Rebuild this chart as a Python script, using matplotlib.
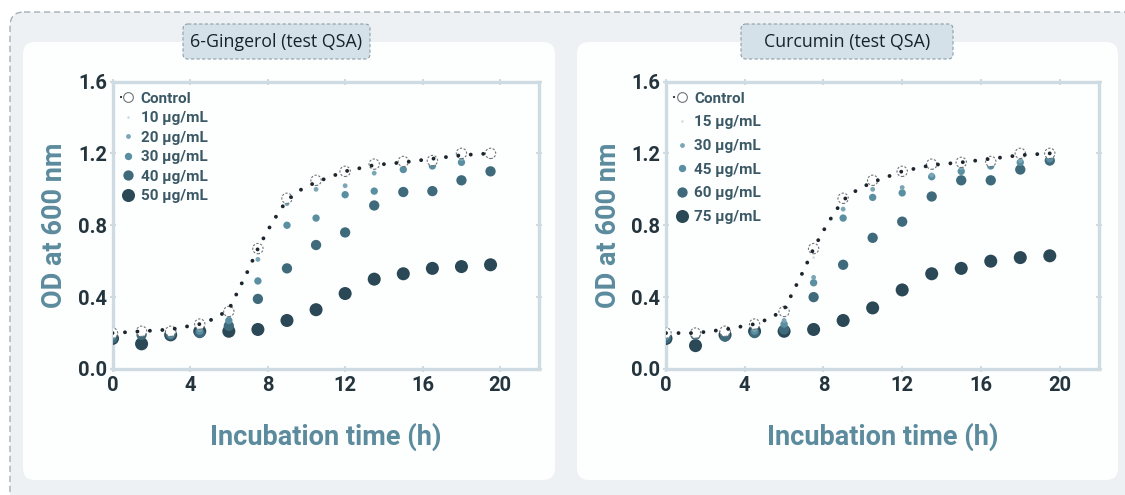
import matplotlib
matplotlib.use("Agg")
import matplotlib.pyplot as plt
from matplotlib.patches import FancyBboxPatch
from matplotlib.lines import Line2D

plt.rcParams['font.family'] = ['Roboto', 'DejaVu Sans']

# ---------------- data ----------------
time_h = [0, 1.5, 3, 4.5, 6, 7.5, 9, 10.5, 12, 13.5, 15, 16.5, 18, 19.5]

ging_labels = ["Control", "10 μg/mL", "20 μg/mL", "30 μg/mL", "40 μg/mL", "50 μg/mL"]
ging_control = [0.20, 0.21, 0.21, 0.25, 0.32, 0.67, 0.95, 1.05, 1.10, 1.14, 1.155, 1.16, 1.20, 1.20]
ging_10 = [0.20, 0.20, 0.21, 0.24, 0.31, 0.65, 0.94, 1.04, 1.09, 1.13, 1.15, 1.16, 1.19, 1.20]
ging_20 = [0.19, 0.20, 0.20, 0.22, 0.30, 0.61, 0.92, 1.00, 1.02, 1.09, 1.14, 1.15, 1.17, 1.19]
ging_30 = [0.18, 0.20, 0.19, 0.21, 0.27, 0.49, 0.80, 0.84, 0.97, 0.99, 1.11, 1.13, 1.15, 1.19]
ging_40 = [0.17, 0.19, 0.19, 0.20, 0.24, 0.39, 0.56, 0.69, 0.76, 0.91, 0.985, 0.99, 1.05, 1.10]
ging_50 = [0.17, 0.14, 0.19, 0.21, 0.21, 0.22, 0.27, 0.33, 0.42, 0.50, 0.53, 0.56, 0.57, 0.58]

curc_labels = ["Control", "15 μg/mL", "30 μg/mL", "45 μg/mL", "60 μg/mL", "75 μg/mL"]
curc_control = [0.20, 0.20, 0.21, 0.25, 0.32, 0.67, 0.95, 1.05, 1.10, 1.14, 1.15, 1.155, 1.20, 1.20]
curc_15 = [0.20, 0.20, 0.21, 0.24, 0.30, 0.62, 0.93, 1.03, 1.08, 1.12, 1.14, 1.15, 1.18, 1.19]
curc_30 = [0.19, 0.20, 0.20, 0.22, 0.27, 0.51, 0.89, 1.00, 1.01, 1.08, 1.12, 1.14, 1.16, 1.18]
curc_45 = [0.18, 0.20, 0.20, 0.21, 0.25, 0.48, 0.84, 0.955, 0.98, 1.07, 1.10, 1.13, 1.15, 1.17]
curc_60 = [0.17, 0.19, 0.18, 0.20, 0.22, 0.40, 0.58, 0.73, 0.82, 0.96, 1.05, 1.05, 1.11, 1.16]
curc_75 = [0.17, 0.13, 0.19, 0.21, 0.21, 0.22, 0.27, 0.34, 0.44, 0.53, 0.56, 0.60, 0.62, 0.63]

# fitted growth curve (dotted)
fit_t = [0, 1.5, 3, 4.5, 5.25, 6, 6.5, 7, 7.5, 8, 8.5, 9, 9.75, 10.5, 11.5, 12, 13.5, 15, 16.5, 18, 19.5]
ging_fit = [0.20, 0.21, 0.22, 0.25, 0.28, 0.33, 0.44, 0.55, 0.67, 0.77, 0.86, 0.94, 1.00, 1.04, 1.08, 1.10, 1.135, 1.15, 1.17, 1.19, 1.20]
curc_fit = [0.20, 0.20, 0.22, 0.25, 0.28, 0.33, 0.44, 0.55, 0.67, 0.77, 0.86, 0.94, 1.00, 1.04, 1.08, 1.10, 1.135, 1.15, 1.17, 1.19, 1.20]

x_ticks = [0, 4, 8, 12, 16, 20]
y_ticks = [0.0, 0.4, 0.8, 1.2, 1.6]

titles = ["6-Gingerol (test QSA)", "Curcumin (test QSA)"]

# ---------------- style ----------------
W, H = 1125, 495
dose_colors = ["#c9d7de", "#7ba6b6", "#5a8fa2", "#3f6a7b", "#2a4855"]
dose_sizes = [3, 12, 28, 55, 88]
spine_c = "#cfdbe2"
tick_c = "#24343d"
label_c = "#5b8b9d"

fig = plt.figure(figsize=(W / 100, H / 100), dpi=100)
fig.patch.set_facecolor("white")

bg = fig.add_axes([0, 0, 1, 1], zorder=0)
bg.set_xlim(0, W)
bg.set_ylim(H, 0)
bg.axis("off")

bg.add_patch(FancyBboxPatch((10, 12), 1140, 500, boxstyle="round,pad=0,rounding_size=14",
                            fc="#edf1f4", ec="#9aa8b0", lw=0.9, ls=(0, (5, 3))))
panels = [(23, 42, 532, 438), (577, 42, 541, 438)]
for (x, y, w, h) in panels:
    bg.add_patch(FancyBboxPatch((x, y), w, h, boxstyle="round,pad=0,rounding_size=12",
                                fc="#fdfefe", ec="none"))
tboxes = [(183, 24, 187, 35), (741, 24, 212, 35)]
for (x, y, w, h), t in zip(tboxes, titles):
    bg.add_patch(FancyBboxPatch((x, y), w, h, boxstyle="round,pad=0,rounding_size=5",
                                fc="#d5e1e8", ec="#8d9ea8", lw=0.8, ls=(0, (3, 2))))
    bg.text(x + w / 2, y + h / 2 + 0.5, t, ha="center", va="center", fontsize=12.8,
            color="#18222a", family=["Open Sans", "DejaVu Sans"])

ax_rects = [
    [112.5 / W, 1 - 369 / H, (539 - 112.5) / W, (369 - 81.5) / H],
    [666 / W, 1 - 369 / H, (1099 - 666) / W, (369 - 81.5) / H],
]
panel_data = [
    (ging_labels, ging_control, [ging_10, ging_20, ging_30, ging_40, ging_50], ging_fit, 0.36),
    (curc_labels, curc_control, [curc_15, curc_30, curc_45, curc_60, curc_75], curc_fit, 0.63),
]

for rect, (labels, ctrl, doses, fit, lspace) in zip(ax_rects, panel_data):
    ax = fig.add_axes(rect, zorder=2)
    ax.set_facecolor("none")
    # doses: darkest first so lighter sit on top
    for series, c, s in reversed(list(zip(doses, dose_colors, dose_sizes))):
        ax.scatter(time_h, series, s=s, color=c, edgecolors="none", zorder=3)
    ax.scatter(time_h, ctrl, s=55, facecolors="white", edgecolors="#6d7478",
               linewidths=0.8, linestyles=(0, (2, 1.5)), zorder=4)
    ax.plot(fit_t, fit, color="#1c262c", lw=2.8, ls=(0, (0.01, 3.2)),
            dash_capstyle="round", zorder=5)

    ax.set_xlim(0, 22)
    ax.set_ylim(0, 1.6)
    ax.set_xticks(x_ticks)
    ax.set_yticks(y_ticks)
    ax.set_xticklabels([str(v) for v in x_ticks])
    ax.set_yticklabels([f"{v:.1f}" for v in y_ticks])
    for sp in ax.spines.values():
        sp.set_color(spine_c)
        sp.set_linewidth(2.4)
    ax.tick_params(direction="inout", length=4, width=1.5, color=spine_c,
                   top=True, right=True, labelsize=14.5, labelcolor=tick_c)
    ax.tick_params(axis="x", pad=3)
    ax.tick_params(axis="y", pad=2)
    for lab in ax.get_xticklabels() + ax.get_yticklabels():
        lab.set_fontweight("bold")

    ax.set_xlabel("Incubation time (h)", fontsize=19.5, fontweight="bold", color=label_c, labelpad=20)
    ax.set_ylabel("OD at 600 nm", fontsize=19.5, fontweight="bold", color=label_c, labelpad=7)

    handles = [Line2D([0], [0], color="#1c262c", lw=1.6, ls=(0, (0.01, 2.5)),
                      dash_capstyle="round", marker="o", markersize=7,
                      mfc="white", mec="#6d7478", mew=0.8)]
    for c, s in zip(dose_colors, dose_sizes):
        handles.append(Line2D([0], [0], ls="none", marker="o", markersize=s ** 0.5,
                              mfc=c, mec="none"))
    leg = ax.legend(handles, labels, loc="upper left", bbox_to_anchor=(0.007, 0.983),
                    frameon=False, handlelength=1.0, handletextpad=0.3,
                    labelspacing=lspace, borderaxespad=0.2, borderpad=0.15,
                    prop={"weight": "bold", "size": 11})
    for txt in leg.get_texts():
        txt.set_color("#3b5865")

fig.savefig("out.png", dpi=100)
